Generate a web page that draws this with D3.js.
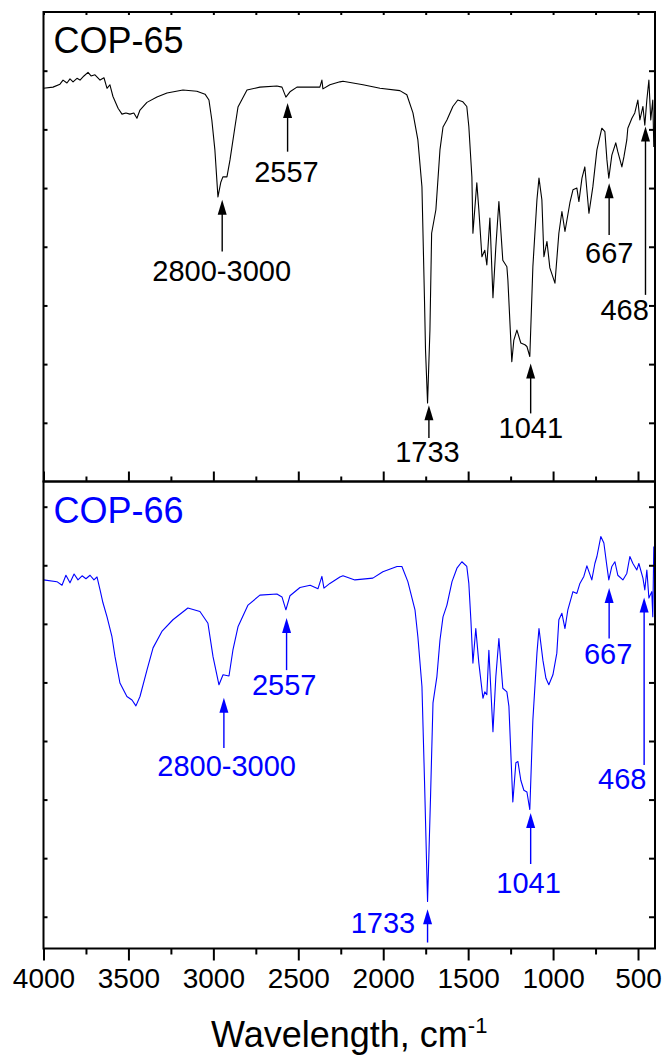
<!DOCTYPE html>
<html>
<head>
<meta charset="utf-8">
<title>FTIR COP-65 / COP-66</title>
<script src="https://cdnjs.cloudflare.com/ajax/libs/d3/7.8.5/d3.min.js"></script>
<style>
  html, body { margin: 0; padding: 0; background: #fff; }
  svg text { font-family: "Liberation Sans", Arial, sans-serif; }
</style>
</head>
<body>
<svg id="chart" width="667" height="1057"></svg>
<script>
// ---- data ----
const wn65 = [4000,3944,3903,3885,3862,3844,3826,3803,3785,3762,3738,3720,3697,3667,3644,3626,3609,3591,3561,3538,
  3515,3491,3468,3450,3432,3391,3332,3273,3179,3097,3049,3026,3009,2991,2973,2956,2944,2920,2902,2873,
  2855,2802,2726,2626,2596,2573,2549,2508,2373,2361,2355,2314,2255,2237,2119,2019,1902,1861,1825,1796,
  1772,1757,1751,1739,1725,1715,1690,1666,1648,1625,1590,1561,1531,1508,1496,1478,1472,1449,1437,1419,
  1402,1390,1372,1354,1337,1319,1296,1272,1266,1243,1231,1213,1190,1166,1154,1137,1119,1095,1083,1066,
  1054,1036,1019,989,966,948,930,901,883,860,848,830,813,789,766,742,713,695,683,672,
  654,631,619,595,583,566,560,536,519,501,489,471,460,448,436,425,413,407];
const t65 = [67.0,67.2,67.7,68.4,67.9,68.6,68.1,68.7,68.4,69.1,69.7,69.1,69.3,68.4,68.8,67.0,67.6,65.6,63.6,62.6,
  62.8,62.6,62.8,61.9,63.3,64.6,65.5,66.2,66.7,66.5,66.0,65.0,61.6,56.5,48.5,51.0,51.9,51.9,54.8,60.4,
  63.8,66.7,67.2,67.4,67.2,65.5,66.4,67.2,67.2,68.4,66.9,67.6,68.1,68.2,67.6,67.0,66.6,65.9,62.8,58.2,
  50.2,30.9,22.4,13.4,25.8,42.3,46.3,56.5,60.4,61.6,63.9,65.0,64.7,63.9,60.5,51.9,42.3,50.9,46.3,38.3,
  39.4,36.9,44.9,31.3,40.0,47.7,37.7,36.6,34.3,20.4,24.1,25.8,23.6,23.3,23.0,21.3,36.6,48.0,51.7,48.0,
  38.3,40.9,36.4,33.8,42.3,46.0,42.6,47.5,49.7,50.0,47.7,51.7,53.6,45.7,50.2,56.5,60.2,59.6,54.8,51.7,
  55.6,57.7,56.2,53.6,55.3,58.2,60.2,61.9,62.8,65.0,61.6,63.9,60.7,65.0,68.4,61.6,65.0,57.0];

const wn66 = [4000,3921,3891,3868,3844,3820,3797,3773,3750,3726,3703,3685,3667,3650,3626,3597,3579,3550,3509,3479,
  3456,3432,3391,3355,3303,3238,3150,3079,3032,3002,2967,2943,2908,2885,2855,2796,2726,2626,2596,2573,
  2549,2490,2430,2384,2361,2349,2314,2255,2237,2167,2061,2002,1919,1890,1855,1813,1796,1772,1757,1739,
  1722,1707,1684,1666,1648,1625,1595,1566,1537,1508,1496,1484,1472,1455,1437,1413,1402,1390,1378,1354,
  1337,1319,1296,1272,1260,1237,1219,1207,1190,1172,1154,1137,1119,1095,1083,1060,1042,1025,1001,978,
  966,948,930,913,883,860,842,819,801,772,754,742,719,701,683,672,654,636,619,589,
  566,548,530,507,495,471,460,448,436,419,413,407];
const t66 = [67.5,67.2,66.6,68.3,67.0,68.5,67.5,68.2,67.7,68.3,67.5,68.0,65.8,63.6,61.2,57.8,54.4,49.9,47.6,47.0,
  46.0,47.6,52.1,55.9,58.7,60.7,62.7,62.1,60.1,54.4,49.6,51.3,51.1,55.5,59.5,63.2,64.9,65.1,64.6,62.4,
  64.8,66.2,66.6,66.0,68.1,66.1,66.9,68.0,68.2,67.5,67.8,68.9,69.8,69.8,67.2,62.4,57.8,49.3,33.3,12.6,
  29.9,46.5,51.0,57.2,61.2,63.2,67.2,69.5,70.6,69.8,66.9,60.7,53.3,59.2,53.3,47.3,48.4,47.9,55.5,41.6,
  51.0,57.5,49.0,48.4,45.9,29.6,36.3,36.5,33.3,31.6,31.3,28.3,43.6,55.0,59.2,53.8,50.7,49.6,51.3,55.0,
  60.7,61.8,59.2,62.4,65.5,65.2,66.9,68.1,69.9,67.5,70.3,71.5,74.9,73.8,69.8,67.5,69.8,70.6,68.3,67.5,
  68.6,71.5,70.3,69.2,70.3,67.8,65.8,69.2,64.4,65.5,61.2,73.2];

const xMajorTicks = [4000,3500,3000,2500,2000,1500,1000,500];
const xMinorTicks = [3750,3250,2750,2250,1750,1250,750];
const yTicks65 = [10,20,30,40,50,60,70];
const yTicks66 = [10,20,30,40,50,60,70,80];

// peak annotations
const peakText = ["2800-3000","2557","1733","1041","667","468"];
const arrowWn65 = [2948,2563,1731,1132,670,456];
const tipY65    = [48.0,64.5,13.0,20.1,50.8,60.5];
const tailY65   = [39.2,56.2,7.4,11.6,42.0,31.8];
const textWn65  = [2951,2570,1740,1131,669,436];
const textY65   = [34.2,51.1,3.4,7.4,37.2,27.6];
const arrowWn66 = [2938,2569,1739,1132,670,464];
const tipY66    = [47.4,61.0,11.3,27.7,66.1,64.5];
const tailY66   = [38.8,52.1,5.6,19.0,57.5,35.9];
const textWn66  = [2922,2583,1812,1144,676,450];
const textY66   = [34.0,47.9,7.3,14.1,53.2,31.8];

// ---- layout ----
const left = 43.5, right = 655;
const top1 = 12, mid = 481.5, bot2 = 948.5;

const svg = d3.select("#chart");

const x = d3.scaleLinear().domain([4000, 400]).range([left, right]);
const y65 = d3.scaleLinear().domain([0, 80]).range([mid, top1]);
const y66 = d3.scaleLinear().domain([4.58, 84.3]).range([bot2, mid]);

function panel(opts) {
  const { y, yTicks, wn, t, color, title, yTop, yBot,
          arrowWn, tipY, tailY, textWn, textY, anchors, topTicks, bottomLabels } = opts;
  const g = svg.append("g");

  // curve
  const pts = wn.map((w, i) => [w, t[i]]);
  g.append("path")
    .datum(pts)
    .attr("fill", "none")
    .attr("stroke", color)
    .attr("stroke-width", 1.1)
    .attr("stroke-linejoin", "round")
    .attr("d", d3.line().x(d => x(d[0])).y(d => y(d[1])));

  // y ticks (inward)
  g.append("g").attr("transform", `translate(${left},0)`)
    .call(d3.axisRight(y).tickValues(yTicks).tickSize(4).tickSizeOuter(0).tickFormat(""))
    .call(a => a.select(".domain").remove());
  g.append("g").attr("transform", `translate(${right},0)`)
    .call(d3.axisLeft(y).tickValues(yTicks).tickSize(6).tickSizeOuter(0).tickFormat(""))
    .call(a => a.select(".domain").remove());

  if (topTicks) {
    g.append("g").attr("transform", `translate(0,${yTop})`)
      .call(d3.axisBottom(x).tickValues(xMajorTicks.concat(xMinorTicks)).tickSize(3).tickSizeOuter(0).tickFormat(""))
      .call(a => a.select(".domain").remove());
  }

  if (bottomLabels) {
    g.append("g").attr("transform", `translate(0,${yBot})`)
      .call(d3.axisBottom(x).tickValues(xMinorTicks).tickSize(6).tickSizeOuter(0).tickFormat(""))
      .call(a => a.select(".domain").remove());
    const ax = g.append("g").attr("transform", `translate(0,${yBot})`)
      .call(d3.axisBottom(x).tickValues(xMajorTicks).tickSize(12).tickSizeOuter(0).tickPadding(8).tickFormat(d3.format("d")))
      .call(a => a.select(".domain").remove());
    ax.selectAll("text")
      .attr("font-size", 28)
      .attr("fill", "#000")
      .attr("font-family", "Liberation Sans, Arial, sans-serif");
  } else {
    // inward ticks on the shared border
    g.append("g").attr("transform", `translate(0,${yBot})`)
      .call(d3.axisTop(x).tickValues(xMinorTicks).tickSize(5).tickSizeOuter(0).tickFormat(""))
      .call(a => a.select(".domain").remove());
    g.append("g").attr("transform", `translate(0,${yBot})`)
      .call(d3.axisTop(x).tickValues(xMajorTicks).tickSize(10).tickSizeOuter(0).tickFormat(""))
      .call(a => a.select(".domain").remove());
  }
  g.selectAll(".tick line").attr("stroke", "#000").attr("stroke-width", 2);

  // frame
  g.append("rect")
    .attr("x", left).attr("y", yTop)
    .attr("width", right - left).attr("height", yBot - yTop)
    .attr("fill", "none").attr("stroke", "#000").attr("stroke-width", 2);

  // title
  g.append("text")
    .attr("x", left + 10).attr("y", yTop + 41)
    .attr("font-size", 36).attr("fill", color)
    .text(title);

  // arrows + labels
  peakText.forEach((lab, i) => {
    const ax = x(arrowWn[i]), yt = y(tipY[i]), yb = y(tailY[i]);
    g.append("line")
      .attr("x1", ax).attr("x2", ax)
      .attr("y1", yt + 12).attr("y2", yb)
      .attr("stroke", color).attr("stroke-width", 1.4);
    g.append("path")
      .attr("d", `M${ax},${yt} L${ax - 4.5},${yt + 15} L${ax + 4.5},${yt + 15} Z`)
      .attr("fill", color);
    g.append("text")
      .attr("x", x(textWn[i])).attr("y", y(textY[i]))
      .attr("text-anchor", anchors[i])
      .attr("font-size", 29).attr("fill", color)
      .text(lab);
  });
}

panel({
  y: y65, yTicks: yTicks65, wn: wn65, t: t65, color: "#000", title: "COP-65",
  yTop: top1, yBot: mid,
  arrowWn: arrowWn65, tipY: tipY65, tailY: tailY65, textWn: textWn65, textY: textY65,
  anchors: ["middle","middle","middle","middle","middle","end"],
  topTicks: true, bottomLabels: false
});

panel({
  y: y66, yTicks: yTicks66, wn: wn66, t: t66, color: "#0000ff", title: "COP-66",
  yTop: mid, yBot: bot2,
  arrowWn: arrowWn66, tipY: tipY66, tailY: tailY66, textWn: textWn66, textY: textY66,
  anchors: ["middle","middle","end","middle","middle","end"],
  topTicks: false, bottomLabels: true
});

// x axis title
const xt = svg.append("text")
  .attr("x", (left + right) / 2).attr("y", 1047)
  .attr("text-anchor", "middle")
  .attr("font-size", 36).attr("fill", "#000");
xt.append("tspan").text("Wavelength, cm");
xt.append("tspan").attr("font-size", 22).attr("dy", -14).text("-1");
</script>
</body>
</html>
